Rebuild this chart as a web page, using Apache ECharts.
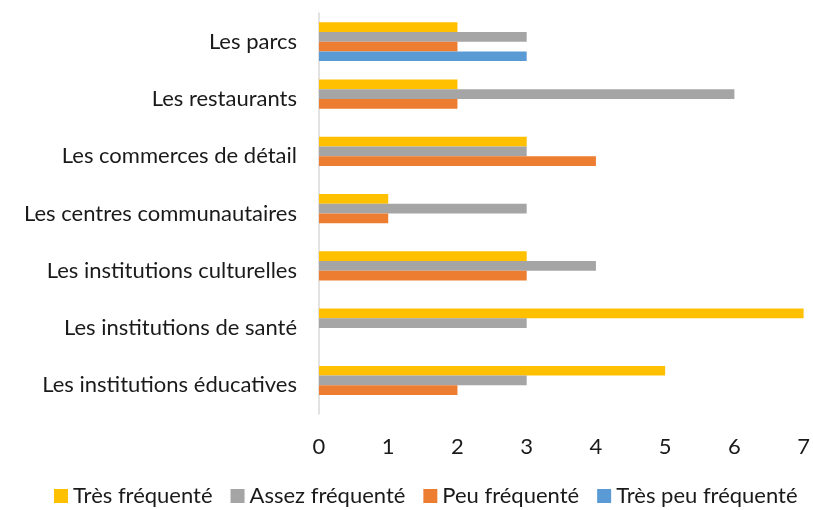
<!DOCTYPE html>
<html><head><meta charset="utf-8">
<script src="https://cdn.jsdelivr.net/npm/echarts@6/dist/echarts.min.js"></script>
<style>html,body{margin:0;padding:0;background:#fff}#c{width:813px;height:510px}</style>
</head><body><div id="c"></div>
<script>
const categories = ['Les institutions éducatives','Les institutions de santé','Les institutions culturelles','Les centres communautaires','Les commerces de détail','Les restaurants','Les parcs'];
const tresFrequente = [5,7,3,1,3,2,2];
const assezFrequente = [3,3,4,3,3,6,3];
const peuFrequente = [2,0,3,1,4,2,2];
const tresPeuFrequente = [0,0,0,0,0,0,3];
const xTicks = [0,1,2,3,4,5,6,7];

const font = 'Lato, sans-serif';
const chart = echarts.init(document.getElementById('c'), null, {renderer:'canvas'});
function s(name, data, color){ return {name, type:'bar', data, itemStyle:{color}, barGap:'0%', barCategoryGap:'32%'}; }
chart.setOption({
  animation:false,
  textStyle:{fontFamily:font},
  grid:{left:319, right:9, top:13, bottom:96, containLabel:false},
  legend:{
    data:['Très fréquenté','Assez fréquenté','Peu fréquenté','Très peu fréquenté'],
    top:480, left:49, itemWidth:14, itemHeight:14, itemGap:18, icon:'rect',
    textStyle:{fontSize:22, color:'#1a1a1a', fontFamily:font}
  },
  xAxis:{type:'value', min:xTicks[0], max:xTicks[xTicks.length-1], interval:1,
    axisLine:{show:false}, axisTick:{show:false}, splitLine:{show:false},
    axisLabel:{fontSize:22, color:'#1a1a1a', margin:22, fontFamily:font}},
  yAxis:{type:'category', data:categories,
    axisLine:{lineStyle:{color:'#d9d9d9', width:1.5}}, axisTick:{show:false},
    axisLabel:{fontSize:22, color:'#1a1a1a', margin:22, fontFamily:font}},
  series:[
    s('Très fréquenté', tresFrequente, '#ffc000'),
    s('Assez fréquenté', assezFrequente, '#a5a5a5'),
    s('Peu fréquenté', peuFrequente, '#ed7d31'),
    s('Très peu fréquenté', tresPeuFrequente, '#5b9bd5')
  ]
});
</script></body></html>
